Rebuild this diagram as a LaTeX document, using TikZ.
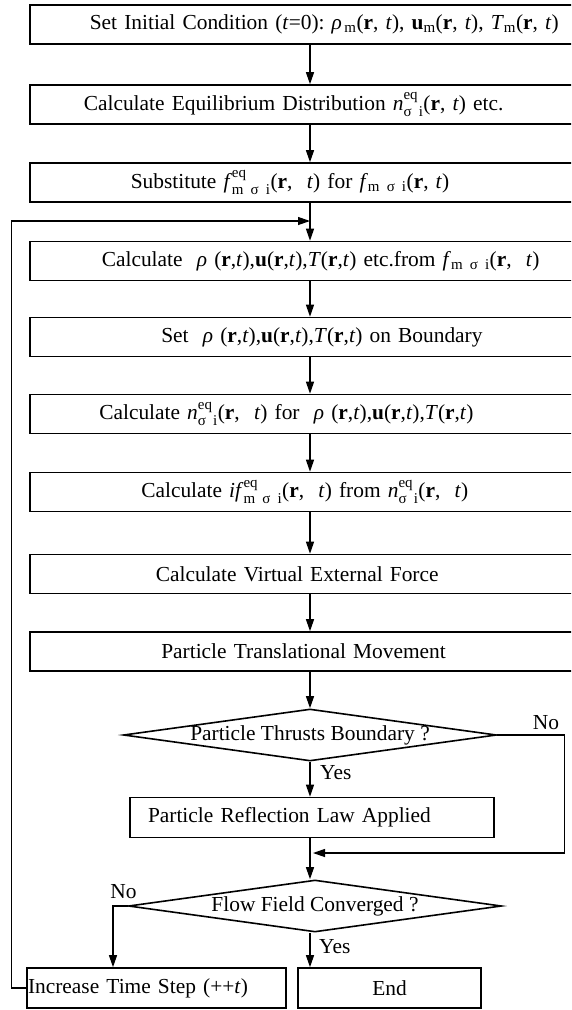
\documentclass[tikz,border=0pt]{standalone}
\usepackage{amsmath}
\usepackage{fontspec}
\setmainfont{Liberation Serif}
\usetikzlibrary{arrows.meta,shapes.geometric}
\newcommand{\rvec}{\textbf{r}}
\newcommand{\uvec}{\textbf{u}}
\newcommand{\tvar}{\textit{t}}
\newcommand{\eqsub}[1]{$^{\text{eq}}_{\text{#1}}$}

\begin{document}
\begin{tikzpicture}[x=1pt,y=-1pt,font=\fontsize{21.4}{24}\selectfont,
  stepbox/.style={draw,line width=1.6pt,anchor=west,minimum height=39pt,inner ysep=1pt,text width=520pt,align=left,inner xsep=#1},
  smallbox/.style={draw,line width=1.6pt,minimum height=40pt,inner ysep=1pt},
  decision/.style={draw,diamond,line width=1.6pt,inner sep=0pt,minimum width=373pt,minimum height=52pt},
  flow/.style={line width=1.2pt,-{Triangle[length=12pt,width=8pt]}},
  lbl/.style={inner sep=0pt}]
\useasboundingbox (0,0) rectangle (571,1010);
\clip (0,0) rectangle (571,1010);
\coordinate (colx) at (310,0);
\coordinate (loop) at (310,221);
\coordinate (join) at (313,853);
% main column
\node[stepbox=60pt] (b1) at (29,24.5) {Set Initial Condition (\tvar=0):\ \textit{ρ}$_{\,\text{m}}$(\rvec,\ \tvar), \uvec$_{\text{m}}$(\rvec,\ \tvar), \textit{T}$_{\text{m}}$(\rvec,\ \tvar)};
\node[stepbox=54pt] (b2) at (29,104.5) {Calculate Equilibrium Distribution \textit{n}\eqsub{σ i}(\rvec, \tvar) etc.};
\node[stepbox=101pt] (b3) at (29,182.5) {Substitute \textit{f}\eqsub{m σ i}(\rvec,\ \ \tvar) for \textit{f}$_{\text{m σ i}}$(\rvec, \tvar)};
\node[stepbox=72pt] (b4) at (29,261) {Calculate\ \ \textit{ρ} (\rvec,\tvar),\uvec(\rvec,\tvar),\textit{T}(\rvec,\tvar) etc.from \textit{f}$_{\text{m σ i}}$(\rvec,\ \ \tvar)};
\node[stepbox=131.5pt] (b5) at (29,337) {Set\ \ \textit{ρ} (\rvec,\tvar),\uvec(\rvec,\tvar),\textit{T}(\rvec,\tvar) on Boundary};
\node[stepbox=69.5pt] (b6) at (29,414) {Calculate \textit{n}\eqsub{σ i}(\rvec,\ \ \tvar) for\ \ \textit{ρ} (\rvec,\tvar),\uvec(\rvec,\tvar),\textit{T}(\rvec,\tvar)};
\node[stepbox=111.5pt] (b7) at (29,492) {Calculate \textit{if}\eqsub{m σ i}(\rvec,\ \ \tvar) from \textit{n}\eqsub{σ i}(\rvec,\ \ \tvar)};
\node[stepbox=126pt] (b8) at (29,574) {Calculate Virtual External Force};
\node[stepbox=131.5pt] (b9) at (29,651.5) {Particle Translational Movement};
% decisions and end
\node[decision] (d1) at (310,735) {\makebox[0pt]{Particle Thrusts Boundary ?}};
\node[smallbox,text width=328pt,align=left,inner xsep=18pt] (b10) at (312,817.5) {Particle Reflection Law Applied};
\node[decision] (d2) at (315,906) {\makebox[0pt]{Flow Field Converged ?}};
\node[smallbox,text width=257pt,align=left,inner xsep=1pt] (b11) at (156.5,988) {Increase Time Step (++\tvar)};
\node[smallbox,minimum width=183pt] (b12) at (389.5,988) {End};
\node[lbl] (no1) at (546,723) {No};
\node[lbl,anchor=west] (yes1) at (320,773) {Yes};
\node[lbl] (no2) at (123.5,892) {No};
\node[lbl,anchor=west] (yes2) at (319,947) {Yes};
% connectors
\foreach \a/\b in {b1/b2,b2/b3,b3/b4,b4/b5,b5/b6,b6/b7,b7/b8,b8/b9}
  \draw[flow] (\a.south -| colx) -- (\b.north -| colx);
\draw[flow] (b9.south -| colx) -- (d1.north);
\draw[flow] (d1.south) -- (d1.south |- b10.north);
\draw[flow] (b10.south -| colx) -- (d2.north -| colx);
\draw[flow] (d1.east) -- ++(67,0) |- (join);
\draw[flow] (d2.south -| colx) -- (b12.north -| colx);
\draw[flow] (d2.west) -| ([xshift=-43.5pt]b11.north);
\draw[flow] (b11.west) -- ++(-15,0) |- (loop);
\end{tikzpicture}
\end{document}
